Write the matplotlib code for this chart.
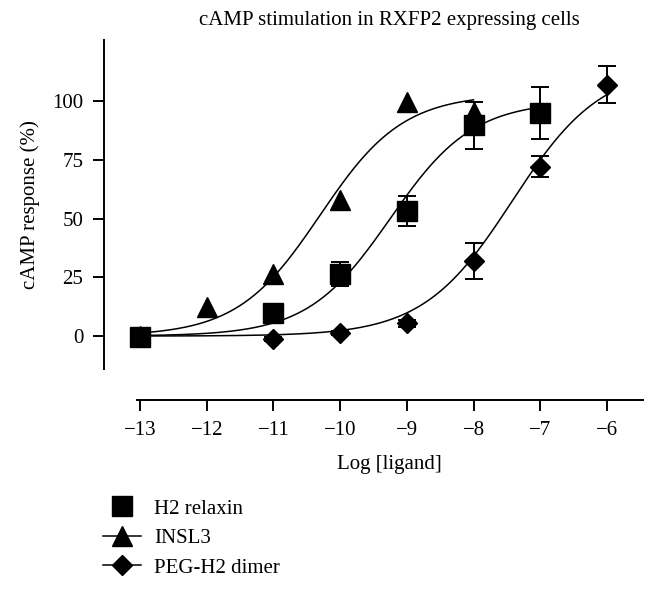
"""
cAMP stimulation in RXFP2 expressing cells - dose response curves
"""

import numpy as np
import matplotlib
matplotlib.use("Agg")
import matplotlib.pyplot as plt
from matplotlib.lines import Line2D

plt.rcParams["font.family"] = ["Liberation Serif", "DejaVu Serif"]

# log concentrations
log_h2 = [-13, -11, -10, -9, -8, -7]
log_insl3 = [-13, -12, -11, -10, -9, -8]
log_peg = [-13, -11, -10, -9, -8, -7, -6]

# responses (%) and SEM
resp_h2 = [-0.3, 9.8, 26.5, 53.3, 89.8, 95.0]
err_h2 = [1.0, 2.0, 5.0, 6.5, 10.0, 11.0]
resp_insl3 = [0.0, 12.5, 26.3, 58.0, 99.7, 95.5]
resp_peg = [-0.5, -1.3, 1.3, 5.5, 32.0, 72.0, 107.0]
err_peg = [1.0, 1.0, 1.0, 1.5, 7.5, 4.5, 8.0]

# sigmoid fit parameters: bottom, top, logEC50, hill slope, x range
fit_h2 = [0.0, 100.0, -9.25, 0.7, -13, -7]
fit_insl3 = [0.0, 103.0, -10.3, 0.7, -13, -8]
fit_peg = [0.0, 115.0, -7.42, 0.65, -13, -6]

labels = ["H2 relaxin", "INSL3", "PEG-H2 dimer"]
yticks = [0, 25, 50, 75, 100]
xticks = [-13, -12, -11, -10, -9, -8, -7, -6]

FS = 15


def sigmoid(x, bottom, top, logec50, hill):
    return bottom + (top - bottom) / (1 + 10 ** ((logec50 - x) * hill))


def draw_fit(ax, p):
    x = np.linspace(p[4], p[5], 300)
    ax.plot(x, sigmoid(x, *p[:4]), color="black", lw=1.1, zorder=1)


def main():
    fig = plt.figure(figsize=(6.57, 5.92), dpi=100)
    ax = fig.add_axes([104 / 657, 1 - 400 / 592, 539 / 657, 360 / 592])

    for p in (fit_h2, fit_insl3, fit_peg):
        draw_fit(ax, p)

    ax.errorbar(log_peg, resp_peg, yerr=err_peg, fmt="D", color="black",
                ms=10.2, capsize=6.5, elinewidth=1.4, capthick=1.4, zorder=3)
    ax.errorbar(log_h2, resp_h2, yerr=err_h2, fmt="s", color="black",
                ms=14, capsize=6.5, elinewidth=1.4, capthick=1.4, zorder=3)
    ax.plot(log_insl3, resp_insl3, "^", color="black", ms=14, zorder=4)

    ax.set_xlim(-13.54, -5.46)
    ax.set_ylim(-27.2, 126)
    ax.spines["top"].set_visible(False)
    ax.spines["right"].set_visible(False)
    ax.spines["left"].set_bounds(-14, 126)
    ax.spines["bottom"].set_bounds(-13.05, -5.46)
    for s in ("left", "bottom"):
        ax.spines[s].set_linewidth(1.4)
    ax.set_xticks(xticks)
    ax.set_yticks(yticks)
    ax.tick_params(width=1.4, length=8, pad=7, labelsize=FS)

    fig.text(389 / 657, 1 - 20 / 592, "cAMP stimulation in RXFP2 expressing cells",
             ha="center", va="center", fontsize=FS)
    fig.text(389 / 657, 1 - 465 / 592, "Log [ligand]",
             ha="center", va="center", fontsize=FS)
    fig.text(30 / 657, 1 - 205 / 592, "cAMP response (%)", rotation=90,
             ha="center", va="center", fontsize=FS)

    handles = [
        Line2D([], [], color="black", marker="s", ms=14, ls="none"),
        Line2D([], [], color="black", marker="^", ms=14, lw=1.1),
        Line2D([], [], color="black", marker="D", ms=10.2, lw=1.1),
    ]
    fig.legend(handles, labels, loc="upper left",
               bbox_to_anchor=(103 / 657, 1 - 499 / 592), frameon=False,
               fontsize=FS, borderpad=0, borderaxespad=0, handlelength=1.8,
               handletextpad=0.65, labelspacing=0.48)

    fig.savefig("out.png", dpi=100)


if __name__ == "__main__":
    main()
